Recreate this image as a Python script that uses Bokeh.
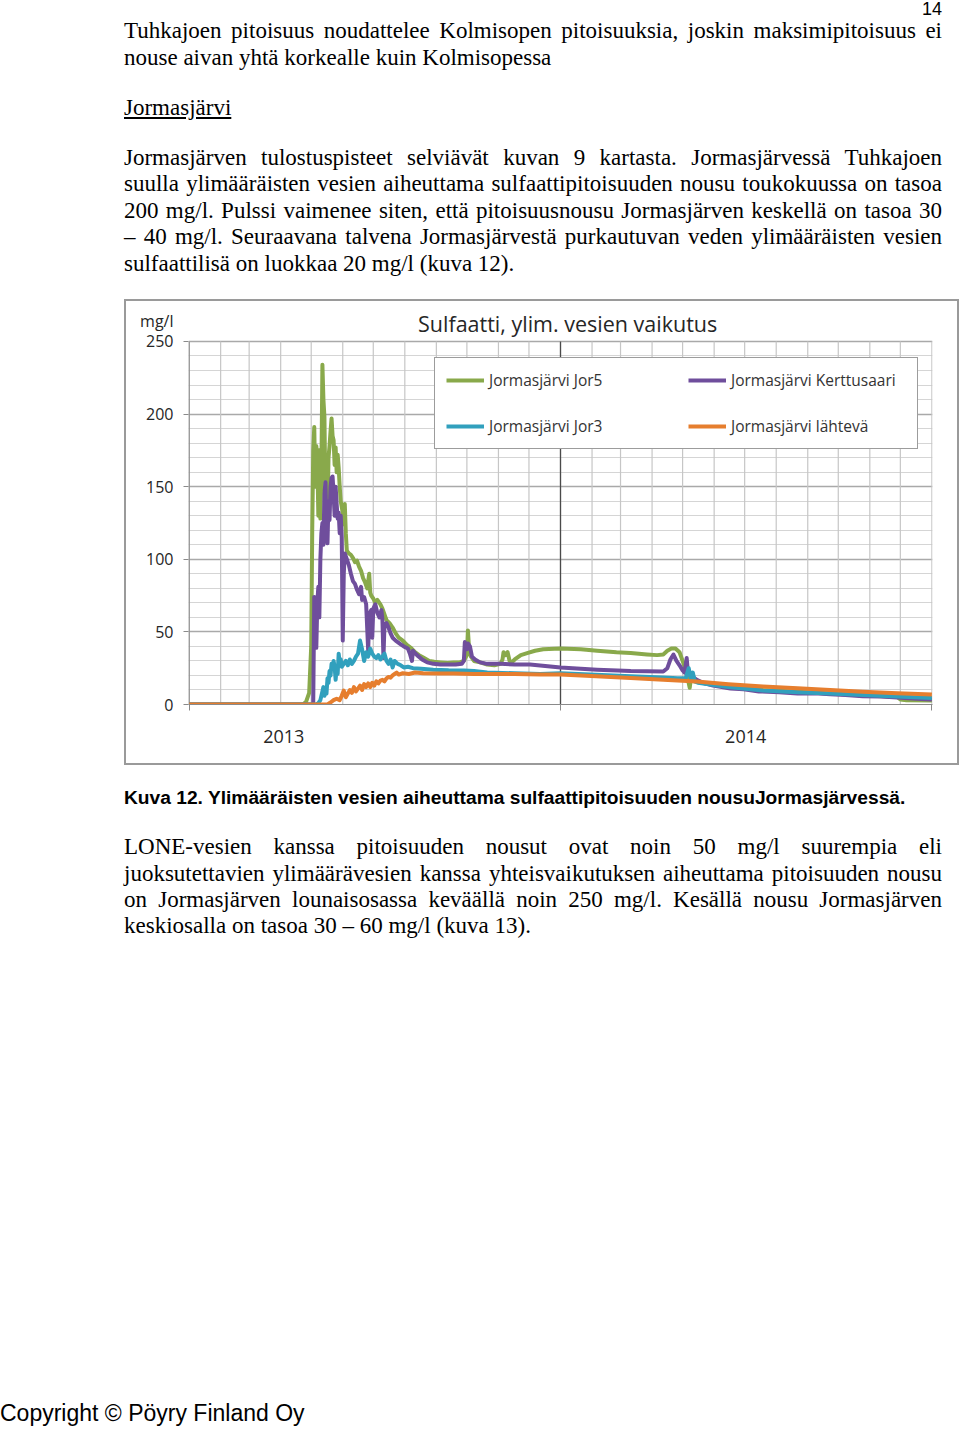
from bokeh.plotting import figure
from bokeh.models import FixedTicker, Legend, LegendItem, Label, Div, Spacer, Range1d
from bokeh.layouts import column, row
from bokeh.embed import file_html
from bokeh.resources import INLINE

# ---------------- data (days since 2013-01-01, sulfate mg/l) ----------------
month_starts = [0, 31, 59, 90, 120, 151, 181, 212, 243, 273, 304, 334, 365,
                396, 424, 455, 485, 516, 546, 577, 608, 638, 669, 699, 730]
year_bounds = [0, 365, 730]
year_label_days = [93, 547]
year_labels = ["2013", "2014"]
y_ticks = [0, 50, 100, 150, 200, 250]
y_minor = [10, 20, 30, 40, 60, 70, 80, 90, 110, 120, 130, 140, 160, 170, 180, 190, 210, 220, 230, 240]
unit_label = "mg/l"
unit_label_y = 264
chart_title = "Sulfaatti, ylim. vesien vaikutus"

jor5 = [(0, 0), (112, 0), (115, 2), (118, 8), (120, 40), (121, 120), (122, 175), (123, 191), (124, 150),
        (125, 178), (126, 170), (127, 130), (128, 175), (129, 128), (130, 160), (131, 234), (132, 210),
        (133, 198), (134, 140), (135, 150), (136, 132), (137, 170), (138, 178), (139, 188), (140, 197),
        (141, 185), (142, 182), (143, 165), (144, 177), (145, 160), (146, 172), (147, 163), (148, 150),
        (149, 140), (150, 136), (151, 132), (152, 124), (153, 138), (154, 118), (155, 106), (157, 104),
        (159, 103), (161, 101), (163, 98), (165, 99), (167, 95), (169, 92), (171, 87), (173, 84), (175, 80),
        (177, 90), (178, 77), (179, 75), (181, 73), (183, 70), (185, 72), (188, 69), (190, 66), (192, 62),
        (194, 58), (197, 56), (200, 53), (203, 49), (206, 46), (210, 44), (214, 41), (218, 39), (222, 36),
        (226, 34), (231, 32), (236, 30), (241, 29.5), (247, 29), (254, 28.5), (260, 29), (266, 29), (270, 30),
        (273, 34), (274, 51), (275, 40), (277, 33), (280, 30), (286, 29), (293, 27.5), (300, 27), (306, 28),
        (308, 31), (309, 36), (311, 34), (313, 36), (315, 30), (317, 29), (320, 31), (326, 34), (333, 35.5),
        (340, 37), (348, 38), (365, 38.5), (385, 38), (401, 37), (420, 36), (434, 35.5), (450, 34.5),
        (460, 34), (466, 34.5), (470, 37), (474, 38.5), (478, 38.5), (482, 36), (485, 30), (488, 24),
        (490, 18), (492, 11.5), (493, 17), (496, 16), (500, 15.5), (512, 14), (530, 12.5), (564, 10),
        (598, 8.8), (630, 7.5), (662, 6.4), (696, 5.2), (699, 3.5), (705, 3), (730, 2.8)]

kerttusaari = [(0, 0), (121, 0), (122, 1), (123, 74), (124, 50), (125, 39), (126, 70), (127, 81), (128, 60),
               (129, 100), (130, 118), (131, 125), (132, 110), (133, 145), (134, 153), (135, 120), (136, 111),
               (137, 140), (138, 127), (139, 150), (140, 156), (141, 157), (142, 145), (143, 130), (144, 150),
               (145, 138), (146, 128), (147, 132), (148, 118), (149, 130), (150, 115), (151, 44), (152, 90),
               (153, 104), (155, 100), (157, 96), (159, 90), (161, 85), (163, 83), (165, 79), (167, 76),
               (169, 81), (170, 72), (172, 74), (174, 69), (176, 37), (177, 62), (179, 65), (180, 46), (181, 66),
               (183, 69), (185, 63), (187, 60), (189, 65), (190, 58), (191, 32), (192, 55), (194, 56), (196, 53),
               (198, 49), (200, 46), (203, 44), (207, 42), (211, 40), (215, 38.5), (217, 35), (219, 30), (220, 37),
               (224, 34), (229, 31), (234, 29), (240, 28), (247, 27.5), (254, 27.5), (262, 27.5), (268, 28),
               (270, 30), (271, 43), (273, 38), (274, 42), (276, 40), (278, 33), (281, 31), (286, 29), (293, 28),
               (300, 28), (306, 28), (320, 27.5), (335, 27.5), (350, 26.5), (365, 25.5), (385, 24.6), (401, 24),
               (434, 23), (466, 22.7), (470, 25), (473, 31), (476, 34.4), (479, 30), (482, 27), (485, 23.5),
               (487, 22), (489, 32), (490, 24), (492, 21), (495, 19), (499, 17), (505, 15), (515, 13), (532, 11),
               (545, 10.5), (560, 9), (580, 8.5), (598, 7.5), (615, 7.8), (630, 7), (645, 6.5), (662, 5.7),
               (680, 5.5), (696, 4.8), (715, 4), (730, 3.4)]

jor3 = [(0, 0), (125, 0), (127, 1), (129, 3), (131, 9), (132, 12), (133, 6), (134, 10), (135, 7.5), (136, 18),
        (137, 15), (138, 23), (139, 20), (140, 28), (141, 24), (142, 30), (143, 26), (144, 17), (145, 25),
        (146, 21), (147, 35), (148, 29), (149, 31), (150, 26), (152, 28), (154, 30), (156, 27), (158, 31),
        (160, 28), (162, 30), (164, 33), (166, 35), (168, 44), (170, 38), (172, 30), (174, 36), (176, 33),
        (178, 38.5), (180, 35), (182, 33), (184, 32), (186, 34), (188, 31), (190, 33), (192, 35), (194, 30),
        (196, 28), (198, 31), (200, 25.5), (202, 30), (205, 28), (208, 27), (211, 25.5), (215, 26), (220, 25),
        (228, 24.6), (240, 24), (255, 23.5), (270, 23.4), (280, 23), (293, 22), (320, 21.5), (345, 21),
        (365, 21.5), (400, 20.5), (434, 19.5), (466, 18.6), (480, 18), (488, 18), (491, 25), (493, 18),
        (495, 22), (497, 16), (500, 15), (530, 12), (564, 9.6), (598, 8.5), (630, 7.5), (662, 6.5),
        (696, 5.5), (730, 4.5)]

lahteva = [(0, 0), (136, 0), (139, 1.4), (142, 3), (145, 4), (148, 3), (150, 6), (152, 9.6), (154, 5),
           (156, 7.5), (158, 10), (160, 8), (162, 12), (164, 9), (166, 11), (168, 13), (170, 10), (172, 14),
           (174, 12), (176, 14.5), (178, 12), (180, 15), (182, 13), (184, 16), (186, 14.5), (188, 16.5),
           (190, 17), (192, 16), (194, 18), (196, 19), (198, 18.5), (200, 20), (202, 21), (204, 22),
           (206, 20.6), (210, 21.5), (216, 21), (222, 22), (230, 21.5), (245, 21.3), (260, 21.3), (280, 21),
           (300, 21), (320, 21), (345, 20.6), (365, 20.6), (400, 19.5), (434, 18.2), (466, 17), (480, 16.5),
           (499, 15.8), (530, 14), (564, 12.4), (598, 11.2), (630, 10), (662, 8.8), (696, 7.8), (730, 6.9)]

series_names = ["Jormasjärvi Jor5", "Jormasjärvi Kerttusaari", "Jormasjärvi Jor3", "Jormasjärvi lähtevä"]
series_data = [jor5, kerttusaari, jor3, lahteva]
series_colors = ["#89a94b", "#6f4e9c", "#31a0bd", "#e67e2e"]

# ---------------- page texts ----------------
serif = "'Liberation Serif', 'Times New Roman', serif"
sans = "'Liberation Sans', Arial, sans-serif"

top_lines = [
    ("Tuhkajoen pitoisuus noudattelee Kolmisopen pitoisuuksia, joskin maksimipitoisuus ei", 30, "j"),
    ("nouse aivan yhtä korkealle kuin Kolmisopessa", 57, "l"),
    ("Jormasjärvi", 107, "u"),
    ("Jormasjärven tulostuspisteet selviävät kuvan 9 kartasta. Jormasjärvessä Tuhkajoen", 157, "j"),
    ("suulla ylimääräisten vesien aiheuttama sulfaattipitoisuuden nousu toukokuussa on tasoa", 183, "j"),
    ("200 mg/l. Pulssi vaimenee siten, että pitoisuusnousu Jormasjärven keskellä on tasoa 30", 210, "j"),
    ("– 40 mg/l. Seuraavana talvena Jormasjärvestä purkautuvan veden ylimääräisten vesien", 236, "j"),
    ("sulfaattilisä on luokkaa 20 mg/l (kuva 12).", 263, "l"),
]
caption = "Kuva 12. Ylimääräisten vesien aiheuttama sulfaattipitoisuuden nousuJormasjärvessä."
bottom_lines = [
    ("LONE-vesien kanssa pitoisuuden nousut ovat noin 50 mg/l suurempia eli", 846, "j"),
    ("juoksutettavien ylimäärävesien kanssa yhteisvaikutuksen aiheuttama pitoisuuden nousu", 873, "j"),
    ("on Jormasjärven lounaisosassa keväällä noin 250 mg/l. Kesällä nousu Jormasjärven", 899, "j"),
    ("keskiosalla on tasoa 30 – 60 mg/l (kuva 13).", 925, "l"),
]
copyright_text = "Copyright © Pöyry Finland Oy"
page_number = "14"

TOP_H = 301
FIG_W = 831
FIG_H = 462
BOTTOM_H = 1429 - TOP_H - FIG_H


def serif_line(text, center, kind, offset):
    top = center - offset - 13.5
    style = (f"position:absolute;left:124px;top:{top}px;width:818px;font-family:{serif};"
             f"font-size:23px;line-height:27px;color:#000;")
    if kind == "j":
        style += "text-align:justify;text-align-last:justify;"
    elif kind == "u":
        style += "text-decoration:underline;"
    return f'<div style="{style}">{text}</div>'


top_html = [f'<div style="position:relative;width:960px;height:{TOP_H}px;">']
top_html.append(f'<div style="position:absolute;right:18px;top:0px;font-family:{sans};font-size:18px;'
                f'line-height:18px;color:#000;">{page_number}</div>')
for t, c, k in top_lines:
    top_html.append(serif_line(t, c, k, 0))
top_html.append('</div>')

off = TOP_H + FIG_H
bot_html = [f'<div style="position:relative;width:960px;height:{BOTTOM_H}px;">']
bot_html.append(f'<div style="position:absolute;left:124px;top:{798 - off - 11}px;font-family:{sans};'
                f'font-size:19.2px;font-weight:bold;line-height:22px;color:#000;white-space:nowrap;">{caption}</div>')
for t, c, k in bottom_lines:
    bot_html.append(serif_line(t, c, k, off))
bot_html.append(f'<div style="position:absolute;left:0px;top:{1413 - off - 13}px;font-family:{sans};'
                f'font-size:23px;line-height:26px;color:#000;white-space:nowrap;">{copyright_text}</div>')
bot_html.append('</div>')

top_div = Div(text="".join(top_html), width=960, height=TOP_H, margin=0)
bottom_div = Div(text="".join(bot_html), width=960, height=BOTTOM_H, margin=0)

# ---------------- chart ----------------
# frame reaches the top of the chart box so the title and unit label sit inside it
p = figure(width=FIG_W, height=FIG_H, min_border_left=62, min_border_right=25,
           min_border_top=0, min_border_bottom=59,
           x_range=Range1d(-0.6, 730.6), y_range=Range1d(0, 277.5),
           output_backend="svg", toolbar_location=None,
           background_fill_color="white", border_fill_color="white",
           margin=0)
p.styles = {"outline": "2px solid #9a9a9a"}
p.outline_line_color = None

# horizontal grid
p.xgrid.visible = False
p.ygrid.ticker = FixedTicker(ticks=y_ticks, minor_ticks=y_minor)
p.ygrid.grid_line_color = "#a9a9a9"
p.ygrid.grid_line_width = 1.3
p.ygrid.minor_grid_line_color = "#d5d5d5"
p.ygrid.minor_grid_line_width = 1.2

# vertical (monthly) grid lines, limited to the value range of the y axis
n_m = len(month_starts)
p.segment(x0=month_starts, y0=[y_ticks[0]] * n_m, x1=month_starts, y1=[y_ticks[-1]] * n_m,
          line_color="#c6c6c6", line_width=1.2)
p.segment(x0=[year_bounds[1]], y0=[y_ticks[0]], x1=[year_bounds[1]], y1=[y_ticks[-1]],
          line_color="#4a4a4a", line_width=1.3)
p.segment(x0=[year_bounds[0]], y0=[y_ticks[0]], x1=[year_bounds[0]], y1=[y_ticks[-1]],
          line_color="#8a8a8a", line_width=1.3)

# y axis: labels at the major ticks plus the unit above them; tick marks as minor ticks
p.yaxis.ticker = FixedTicker(ticks=y_ticks + [unit_label_y], minor_ticks=y_ticks)
p.yaxis.major_label_overrides = {unit_label_y: unit_label}
p.yaxis.major_label_text_font = "Open Sans"
p.yaxis.major_label_text_font_size = "16px"
p.yaxis.major_label_text_color = "#262626"
p.yaxis.major_tick_out = 0
p.yaxis.major_tick_in = 0
p.yaxis.major_tick_line_color = None
p.yaxis.major_label_standoff = 10
p.yaxis.minor_tick_out = 5
p.yaxis.minor_tick_in = 0
p.yaxis.minor_tick_line_color = "#8a8a8a"
p.yaxis.axis_line_color = None

p.xaxis.ticker = FixedTicker(ticks=year_label_days, minor_ticks=year_bounds)
p.xaxis.major_label_overrides = dict(zip(year_label_days, year_labels))
p.xaxis.major_label_text_font = "Open Sans"
p.xaxis.major_label_text_font_size = "18px"
p.xaxis.major_label_text_color = "#262626"
p.xaxis.major_tick_out = 0
p.xaxis.major_tick_in = 0
p.xaxis.major_label_standoff = 19
p.xaxis.minor_tick_out = 6
p.xaxis.minor_tick_in = 0
p.xaxis.minor_tick_line_color = "#8a8a8a"
p.xaxis.axis_line_color = "#8a8a8a"

renderers = []
for data, col in zip(series_data, series_colors):
    xs = [d for d, v in data]
    ys = [v for d, v in data]
    r = p.line(xs, ys, line_color=col, line_width=4, line_join="round")
    renderers.append(r)

items = [LegendItem(label=series_names[0], renderers=[renderers[0]]),
         LegendItem(label=series_names[2], renderers=[renderers[2]]),
         LegendItem(label=series_names[1], renderers=[renderers[1]]),
         LegendItem(label=series_names[3], renderers=[renderers[3]])]
legend = Legend(items=items, location=(246, 255), orientation="vertical", ncols=2,
                glyph_width=38, glyph_height=22, label_standoff=5, label_height=22,
                label_width=175, spacing=24, padding=11, margin=0,
                label_text_font="Open Sans", label_text_font_size="15.5px", label_text_color="#333333",
                border_line_color="#3a3a3a", border_line_width=1.2, background_fill_color="white",
                background_fill_alpha=1.0)
p.add_layout(legend)

p.add_layout(Label(x=372, y=262.4, text=chart_title, text_font="Open Sans", text_font_size="21.5px",
                   text_baseline="middle", text_align="center", text_color="#262626"))

chart_row = row(Spacer(width=126, height=FIG_H, margin=0), p, margin=0)
page = column(top_div, chart_row, bottom_div, margin=0)

open("out.html", "w").write(file_html(page, INLINE))
